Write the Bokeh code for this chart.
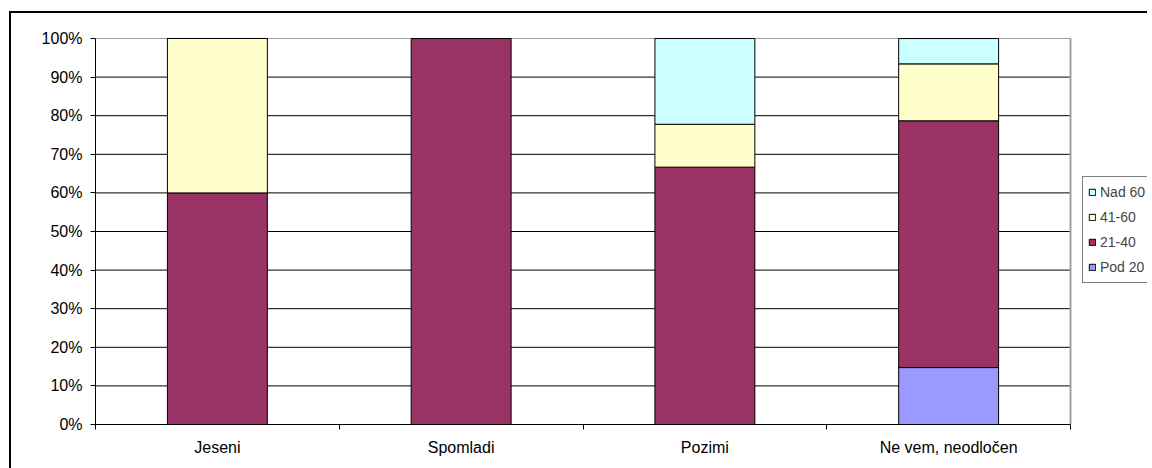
from bokeh.plotting import figure
from bokeh.models import (Range1d, FixedTicker, NumeralTickFormatter, Legend,
                          LegendItem, ColumnDataSource)
from bokeh.embed import file_html
from bokeh.resources import INLINE

# Survey answers per season, share of each age group (percent of answers)
categories = ["Jeseni", "Spomladi", "Pozimi", "Ne vem, neodločen"]
age_groups = ["Pod 20", "21-40", "41-60", "Nad 60"]
pod_20 = [0.0, 0.0, 0.0, 14.75]
od_21_do_40 = [60.0, 100.0, 66.67, 63.93]
od_41_do_60 = [40.0, 0.0, 11.11, 14.75]
nad_60 = [0.0, 0.0, 22.22, 6.56]
y_ticks = [0, 10, 20, 30, 40, 50, 60, 70, 80, 90, 100]

colors = ["#9999FF", "#993366", "#FFFFCC", "#CCFFFF"]
FONT = "Liberation Sans"

# page geometry (pixels)
WIDTH, HEIGHT = 1152, 468
LEFT, TOP, BOTTOM = 95, 36, 44     # room for axes around the frame
PLOT_W, PLOT_H = 975, 386          # drawn plot area (the categories)
FRAME_W = WIDTH - LEFT             # frame also hosts the legend on the right

n = len(categories)
centers = [i + 0.5 for i in range(n)]
source = ColumnDataSource(data={
    "x": centers,
    "Pod 20": [v / 100 for v in pod_20],
    "21-40": [v / 100 for v in od_21_do_40],
    "41-60": [v / 100 for v in od_41_do_60],
    "Nad 60": [v / 100 for v in nad_60],
})

frame_h = HEIGHT - TOP - BOTTOM
p = figure(width=WIDTH, height=HEIGHT, output_backend="svg", toolbar_location=None,
           x_range=Range1d(0, n * FRAME_W / PLOT_W),
           y_range=Range1d(0, frame_h / PLOT_H),
           min_border_left=LEFT, min_border_top=TOP, min_border_right=0,
           min_border_bottom=BOTTOM)

# outer chart border (left and top edges), shown through the transparent border area;
# the chart area continues past the right edge of the page
p.styles = {
    "background-color": "#ffffff",
    "background-image": "linear-gradient(#000000, #000000), linear-gradient(#000000, #000000)",
    "background-size": "2px 100%, 100% 2px",
    "background-position": "9px 11px, 9px 11px",
    "background-repeat": "no-repeat",
    "clip-path": "inset(0px 5px 0px 0px)",
}
p.border_fill_alpha = 0
p.background_fill_color = "white"

# horizontal gridlines across the plot area only
grid_y = [t / 100 for t in y_ticks[1:-1]]
p.segment(x0=[0] * len(grid_y), x1=[n] * len(grid_y), y0=grid_y, y1=grid_y,
          line_color="black", line_width=1)
# plot-area border (top and right)
p.segment(x0=[0, n], x1=[n, n], y0=[1, 0], y1=[1, 1],
          line_color="#a0a0a0", line_width=[1, 2])

renderers = p.vbar_stack(age_groups, x="x", width=0.41, source=source,
                         fill_color=colors, line_color="black", line_width=1)

# axes
p.xaxis.bounds = (0, n)
p.xaxis.ticker = FixedTicker(ticks=centers, minor_ticks=list(range(n + 1)))
p.xaxis.major_label_overrides = {c: lab for c, lab in zip(centers, categories)}
p.xaxis.major_tick_out = 0
p.xaxis.major_tick_in = 0
p.xaxis.minor_tick_out = 5
p.xaxis.minor_tick_in = 0
p.xaxis.minor_tick_line_color = "black"
p.xaxis.major_label_standoff = 9

p.yaxis.bounds = (0, 1)
p.yaxis.ticker = FixedTicker(ticks=[t / 100 for t in y_ticks])
p.yaxis.formatter = NumeralTickFormatter(format="0%")
p.yaxis.major_tick_out = 5
p.yaxis.major_tick_in = 0
p.yaxis.minor_tick_line_color = None
p.yaxis.major_label_standoff = 8

for ax in (p.xaxis, p.yaxis):
    ax.axis_line_color = "black"
    ax.major_tick_line_color = "black"
    ax.major_label_text_font = FONT
    ax.major_label_text_font_size = "16px"
    ax.major_label_text_color = "black"

p.grid.grid_line_color = None
p.outline_line_color = None

items = [LegendItem(label=g, renderers=[r]) for g, r in zip(age_groups, renderers)][::-1]
legend = Legend(items=items, location=(PLOT_W + 12, 141), orientation="vertical",
                label_text_font=FONT, label_text_font_size="14px",
                glyph_width=8, glyph_height=8, label_height=20, label_standoff=4,
                spacing=5, padding=5, margin=0, border_line_color="black",
                border_line_width=1, background_fill_color="white",
                background_fill_alpha=1.0)
p.add_layout(legend)

open("out.html", "w").write(file_html(p, INLINE))
